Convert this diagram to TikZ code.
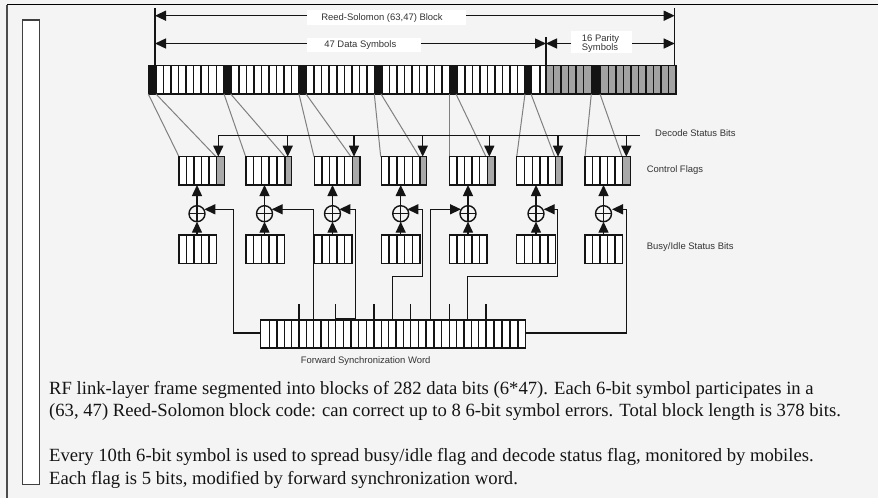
\documentclass[tikz,border=0pt]{standalone}
\usepackage{fontspec}
\setmainfont{Liberation Sans}
\newfontfamily\bodyserif{Liberation Serif}
\usetikzlibrary{arrows.meta}
\definecolor{ink}{HTML}{141414}
\definecolor{paper}{HTML}{F4F4F4}
\definecolor{linkgray}{HTML}{808080}
\definecolor{flaggray}{HTML}{A9A9A9}
\definecolor{paritygray}{HTML}{A2A2A2}
\definecolor{labelink}{HTML}{333333}
\tikzset{
  regbox/.style={draw=ink,line width=1.5pt,fill=white,inner sep=0,outer sep=0,anchor=north west,minimum height=28.3pt},
  div/.style={draw=ink,line width=1.5pt},
  wire/.style={draw=ink,line width=1.4pt},
  arr/.style={wire,-{Triangle[length=11pt,width=10pt]}},
  glink/.style={draw=linkgray,line width=1pt},
  xorc/.style={draw=ink,line width=1.4pt,circle,minimum size=16pt,inner sep=0,outer sep=0},
  lab/.style={font=\fontsize{9.45}{10.5}\selectfont,text=labelink,inner sep=0,anchor=base west},
  whitebox/.style={fill=white,inner sep=0,outer sep=0,anchor=north west},
  body/.style={font=\bodyserif\fontsize{18.65}{22}\selectfont,text=ink,inner sep=0,anchor=base west}
}
\begin{document}
\begin{tikzpicture}[x=1pt,y=-1pt]
\useasboundingbox (0,0) rectangle (878,498);
\fill[paper] (0,0) rectangle (878,498);
% frame
\coordinate (ftl) at (7,4.5);
\coordinate (ftr) at (878,4.5);
\coordinate (fbl) at (7,498);
\draw[draw=black,line width=1.2pt] (ftl) -- (ftr);
\draw[draw=black!70,line width=1.2pt] (ftl) -- (fbl);
\node[regbox,draw=black!75,minimum width=16.6pt,minimum height=464.3pt] (sidebox) at (22.7,20) {};
% main bar
\node[regbox,minimum width=527.5pt,minimum height=28.5pt] (bar) at (148.5,65.5) {};
\fill[paritygray] (546,65.5) rectangle (676,94);
\foreach \a/\b in {148.5/156,224/231.5,299/306.3,374.3/381.5,449.7/457,525/532,591.3/600.7}
  \fill[ink] (\a,65.5) rectangle (\b,94);
\foreach \k in {1,...,50} \draw[div] ({148.5+7.53*\k},65.5) -- ({148.5+7.53*\k},94);
\foreach \x in {540,546,553.5,561,568.5,576,583.5,608.5,616,623.5,631,638.5,646,653.5,661,668.5}
  \draw[div] (\x,65.5) -- (\x,94);
\draw[div] (bar.north west) rectangle (bar.south east);
% dimension lines
\coordinate (dl) at (155,8.3);
\coordinate (dr) at (674.7,8.3);
\coordinate (dm) at (546,37.3);
\draw[wire] (dl) -- (dl |- bar.north);
\draw[wire] (dr) -- (dr |- bar.north);
\draw[wire] (dm) -- (dm |- bar.north);
\node[whitebox,minimum width=159.3pt,minimum height=15pt] (rsbox) at (306.7,10) {};
\node[lab,anchor=base] (rslab) at (382,20) {Reed-Solomon (63,47) Block};
\node[whitebox,minimum width=114.3pt,minimum height=14.6pt] (dbox) at (306.7,37.7) {};
\node[lab,anchor=base] (dlab) at (360.3,47.8) {47 Data Symbols};
\node[whitebox,minimum width=61pt,minimum height=21.7pt] (pbox) at (571,31) {};
\node[lab,anchor=base west] (plab1) at (581.7,41) {16 Parity};
\node[lab,anchor=base west] (plab2) at (581.7,50) {Symbols};
\draw[arr] (rsbox.west |- 0,15.7) -- (dl |- 0,15.7);
\draw[arr] (rsbox.east |- 0,15.7) -- (dr |- 0,15.7);
\draw[arr] (dbox.west |- 0,43.5) -- (dl |- 0,43.5);
\draw[arr] (dbox.east |- 0,43.5) -- (dm |- 0,43.5);
\draw[arr] (pbox.west |- 0,43.5) -- (dm |- 0,43.5);
\draw[arr] (pbox.east |- 0,43.5) -- (dr |- 0,43.5);
% gray links
\foreach \a/\b/\c/\d/\i in {148.3/179/156/216/1,224/245.7/230.7/285/2,299/314/306/351/3,374.3/380.7/381/419.3/4,449/449/456/486/5,525/516.7/531/554.7/6,591.3/585/600/622/7}{
  \coordinate (ftop\i) at (0,156.7);
  \draw[glink] (\a,0 |- bar.south) -- (\b,0 |- ftop\i);
  \draw[glink] (\c,0 |- bar.south) -- (\d,0 |- ftop\i);
}
% decode status line
\coordinate (ds0) at (218.3,135.7);
\coordinate (ds1) at (640,135.7);
\draw[wire] (ds0) -- (ds1);
% registers: index / flag left / gray start / flag right / busy right / xor x / decode drop x
\foreach \i/\l/\g/\r/\br/\xx/\dd in {
 1/179/216.7/224.3/216.3/197/218.3,
 2/246/285/291.3/284.7/264.5/287.7,
 3/314.3/352.3/360/352/332.5/354,
 4/381.3/420/426.7/420/400.7/422.7,
 5/449.7/487.3/495/487/468/489.3,
 6/516.7/555.7/562/555.7/536/558,
 7/585/622.7/630.7/622.7/603.5/626.3}{
  \pgfmathsetmacro{\fw}{\r-\l}
  \pgfmathsetmacro{\bw}{\br-\l}
  \pgfmathsetmacro{\st}{(\br-\l)/5}
  \node[regbox,minimum width=\fw pt] (flag\i) at (\l,156.7) {};
  \fill[flaggray] (\g,156.7) rectangle (\r,185);
  \node[regbox,minimum width=\bw pt] (busy\i) at (\l,235) {};
  \foreach \k in {1,2,3,4}{
    \draw[div] ({\l+\st*\k},156.7) -- ({\l+\st*\k},185);
    \draw[div] ({\l+\st*\k},235) -- ({\l+\st*\k},263.3);
  }
  \draw[div] (\g,156.7) -- (\g,185);
  \draw[div] (flag\i.north west) rectangle (flag\i.south east);
  \node[xorc] (xor\i) at (\xx,213.7) {};
  \draw[wire] (xor\i.north) -- (xor\i.south);
  \draw[wire] (xor\i.west) -- (xor\i.east);
  \draw[arr] (xor\i.north) -- (xor\i.north |- flag\i.south);
  \draw[arr] (xor\i.south |- busy\i.north) -- (xor\i.south);
  \coordinate (dt\i) at (\dd,135.7);
  \draw[arr] (dt\i) -- (dt\i |- flag\i.north);
}
% forward synchronization word
\node[regbox,minimum width=265pt,minimum height=28pt] (fsw) at (260.7,320) {};
\draw[div] (269.7,320) -- (269.7,348);
\foreach \a/\b/\n in {269.7/299/4,299/335.7/5,335.7/374/5,374/410.7/5,410.7/449.3/5,449.3/486/5,486/525.7/5}{
  \foreach \k in {1,...,\n} \draw[div] ({\a+(\b-\a)/\n*\k},320) -- ({\a+(\b-\a)/\n*\k},348);
}
\foreach \x in {299,335.7,374,410.7,449.3,486}
  \draw[wire] (\x,304) -- (\x,348);
% xor feeds
\coordinate (s1) at (204.3,209.3);
\coordinate (s2) at (271.7,209.3);
\coordinate (s3) at (339.3,209.3);
\coordinate (s4) at (407.3,209.3);
\coordinate (s5) at (461,209.3);
\coordinate (s6) at (543.7,209.3);
\coordinate (s7) at (612,209.3);
\coordinate (w1) at (233.3,333);
\coordinate (w7) at (626.3,333);
\draw[arr] (w1 -| fsw.west) -- (w1) -- (w1 |- s1) -- (s1);
\draw[arr] (313.7,0 |- fsw.north) -- (313.7,209.3) -- (s2);
\draw[arr] (335.7,318.7) -- (355.3,318.7) -- (355.3,209.3) -- (s3);
\draw[arr] (392.3,0 |- fsw.north) -- (392.3,276.7) -- (422.3,276.7) -- (422.3,209.3) -- (s4);
\draw[arr] (430.7,0 |- fsw.north) -- (430.7,209.3) -- (s5);
\draw[arr] (467.3,0 |- fsw.north) -- (467.3,276.7) -- (557.7,276.7) -- (557.7,209.3) -- (s6);
\draw[arr] (w7 -| fsw.east) -- (w7) -- (w7 |- s7) -- (s7);
% labels
\node[lab] (l1) at (655,136.5) {Decode Status Bits};
\node[lab] (l2) at (646.7,172.3) {Control Flags};
\node[lab] (l3) at (646.7,249.8) {Busy/Idle Status Bits};
\node[lab] (l4) at (300.7,363.3) {Forward Synchronization Word};
% body text
\node[body] (t1) at (49,394.3) {RF link-layer frame segmented into blocks of 282 data bits (6*47). Each 6-bit symbol participates in a};
\node[body] (t2) at (49,416.7) {(63, 47) Reed-Solomon block code: can correct up to 8 6-bit symbol errors. Total block length is 378 bits.};
\node[body] (t3) at (49,461.7) {Every 10th 6-bit symbol is used to spread busy/idle flag and decode status flag, monitored by mobiles.};
\node[body] (t4) at (49,484) {Each flag is 5 bits, modified by forward synchronization word.};
\end{tikzpicture}
\end{document}
